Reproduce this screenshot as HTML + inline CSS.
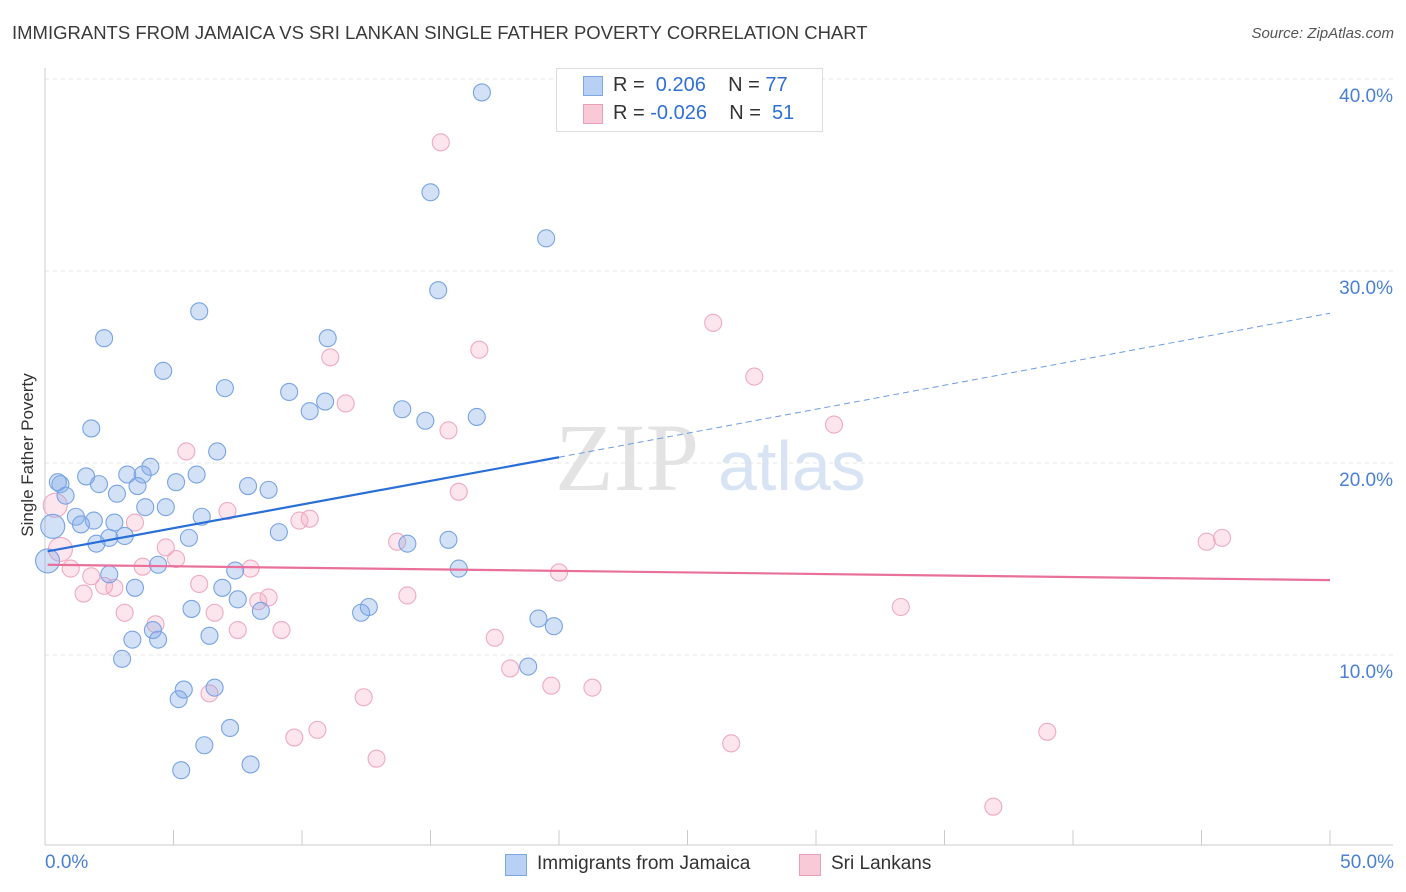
<!DOCTYPE html>
<html><head><meta charset="utf-8"><style>
body{margin:0;background:#fff;font-family:"Liberation Sans",sans-serif;}
#wrap{position:relative;width:1406px;height:892px;overflow:hidden;}
.t{position:absolute;white-space:nowrap;}
</style></head><body>
<div id="wrap">
<div class="t" style="left:12px;top:22px;font-size:18.5px;color:#3a3a3a;">IMMIGRANTS FROM JAMAICA VS SRI LANKAN SINGLE FATHER POVERTY CORRELATION CHART</div>
<div class="t" style="right:12px;top:25px;font-size:15px;color:#555;font-style:italic;">Source: ZipAtlas.com</div>
<div class="t" style="left:28px;top:455px;font-size:17px;color:#333;transform:translate(-50%,-50%) rotate(-90deg);">Single Father Poverty</div>
<svg id="svg" width="1406" height="892" style="position:absolute;left:0;top:0"></svg>
<div style="position:absolute;left:556px;top:68px;width:265px;height:62px;border:1px solid #ddd;background:#fff;"></div>
<div style="position:absolute;left:583px;top:76px;width:18px;height:18px;background:#b8d0f3;border:1px solid #7da6e3;"></div>
<div style="position:absolute;left:583px;top:104px;width:18px;height:18px;background:#f9c9d8;border:1px solid #eaa0b9;"></div>
<div class="t" style="left:613px;top:74px;font-size:20px;color:#333;">R = &nbsp;<span style="color:#2f6fd6">0.206</span>&nbsp;&nbsp;&nbsp; N = <span style="color:#2f6fd6">77</span></div>
<div class="t" style="left:613px;top:102px;font-size:20px;color:#333;">R = <span style="color:#2f6fd6">-0.026</span>&nbsp;&nbsp;&nbsp; N = &nbsp;<span style="color:#2f6fd6">51</span></div>
<div style="position:absolute;left:505px;top:854px;width:20px;height:20px;background:#b8d0f3;border:1px solid #7da6e3;"></div>
<div class="t" style="left:537px;top:853px;font-size:19px;color:#333;">Immigrants from Jamaica</div>
<div style="position:absolute;left:799px;top:854px;width:20px;height:20px;background:#f9c9d8;border:1px solid #eaa0b9;"></div>
<div class="t" style="left:831px;top:853px;font-size:19px;color:#333;">Sri Lankans</div>
<div class="t" style="left:45px;top:852px;font-size:19px;color:#4a7fd6;">0.0%</div>
<div class="t" style="right:12px;top:852px;font-size:19px;color:#4a7fd6;">50.0%</div>
</div>
<script>
const yTicks=[10,20,30,40];
const yTickLabels=["10.0%","20.0%","30.0%","40.0%"];
const blueX=[17.0,15.0,19.5,15.3,6.0,2.3,11.0,4.6,7.0,9.5,10.9,10.3,13.9,14.8,16.8,1.8,6.7,4.1,3.2,3.8,5.9,1.6,0.6,2.1,5.1,3.6,7.9,8.7,2.8,0.8,3.9,4.7,6.1,1.2,1.9,2.7,1.4,0.3,9.1,3.1,2.5,5.6,2.0,15.7,14.1,0.1,4.4,16.1,7.4,2.5,6.9,3.5,7.5,5.7,8.4,12.6,12.3,19.2,19.8,4.2,4.4,3.4,6.4,3.0,18.8,5.4,6.6,5.2,7.2,6.2,8.0,5.3,0.5];
const blueY=[39.3,34.1,31.7,29.0,27.9,26.5,26.5,24.8,23.9,23.7,23.2,22.7,22.8,22.2,22.4,21.8,20.6,19.8,19.4,19.4,19.4,19.3,18.9,18.9,19.0,18.8,18.8,18.6,18.4,18.3,17.7,17.7,17.2,17.2,17.0,16.9,16.8,16.7,16.4,16.2,16.1,16.1,15.8,16.0,15.8,14.9,14.7,14.5,14.4,14.2,13.5,13.5,12.9,12.4,12.3,12.5,12.2,11.9,11.5,11.3,10.8,10.8,11.0,9.8,9.4,8.2,8.3,7.7,6.2,5.3,4.3,4.0,19.0];
const pinkX=[15.4,26.0,16.9,11.1,27.6,11.7,15.7,30.7,5.5,16.1,7.1,9.9,10.3,3.5,0.4,13.7,45.2,45.8,4.7,0.6,5.1,3.8,8.0,1.0,1.8,20.0,6.0,2.3,2.7,1.5,8.7,14.1,8.3,3.1,6.6,33.3,4.3,7.5,9.2,17.5,18.1,19.7,21.3,6.4,12.4,10.6,9.7,39.0,26.7,12.9,36.9];
const pinkY=[36.7,27.3,25.9,25.5,24.5,23.1,21.7,22.0,20.6,18.5,17.5,17.0,17.1,16.9,17.8,15.9,15.9,16.1,15.6,15.5,15.0,14.6,14.5,14.5,14.1,14.3,13.7,13.6,13.5,13.2,13.0,13.1,12.8,12.2,12.2,12.5,11.6,11.3,11.3,10.9,9.3,8.4,8.3,8.0,7.8,6.1,5.7,6.0,5.4,4.6,2.1];
const blueTrend=[[0.1,15.4],[20.0,20.3],[50,27.8]];
const pinkTrend=[[0.1,14.7],[50,13.9]];
const X=v=>45+v*25.7, Y=v=>847-v*19.2;
const svg=document.getElementById('svg'),NS='http://www.w3.org/2000/svg';
function mk(t,a,name){const e=document.createElementNS(NS,t);for(const k in a)e.setAttribute(k,a[k]);


svg.appendChild(e);return e;}
yTicks.forEach((v,i)=>{mk('line',{x1:45,x2:1393,y1:Y(v),y2:Y(v),stroke:'#e4e4e4','stroke-dasharray':'4,4'},'y-gridline');
const t=mk('text',{x:1393,y:Y(v)+23,'text-anchor':'end','font-size':19,fill:'#4a7fd6','font-family':'Liberation Sans'},'y-tick-label');t.textContent=yTickLabels[i];});
mk('line',{x1:45,x2:45,y1:68,y2:845,stroke:'#ccc'},'y-axis');
mk('line',{x1:45,x2:1393,y1:845,y2:845,stroke:'#ccc'},'x-axis');
for(let i=0;i<=10;i++)mk('line',{x1:X(i*5),x2:X(i*5),y1:830,y2:845,stroke:'#ccc'},'x-tick');
const wm=mk('text',{x:555,y:490,'font-size':96,fill:'#e3e3e3','font-family':'Liberation Serif'},'watermark-zip');wm.textContent='ZIP';
const wm2=mk('text',{x:718,y:490,'font-size':70,fill:'#d8e4f3','font-family':'Liberation Sans'},'watermark-atlas');wm2.textContent='atlas';
pinkX.forEach((v,i)=>mk('circle',{cx:X(v),cy:Y(pinkY[i]),r:(v<1?12:8.5),fill:'rgba(244,170,196,0.3)',stroke:'#eeaac1','stroke-width':1.1},'point-srilanka'));
blueX.forEach((v,i)=>mk('circle',{cx:X(v),cy:Y(blueY[i]),r:(v<0.5?12:8.5),fill:'rgba(130,170,232,0.35)',stroke:'#78a4e3','stroke-width':1.1},'point-jamaica'));
mk('line',{x1:X(blueTrend[0][0]),y1:Y(blueTrend[0][1]),x2:X(blueTrend[1][0]),y2:Y(blueTrend[1][1]),stroke:'#2a6fd8','stroke-width':2.2},'trend-jamaica');
mk('line',{x1:X(blueTrend[1][0]),y1:Y(blueTrend[1][1]),x2:X(blueTrend[2][0]),y2:Y(blueTrend[2][1]),stroke:'#6d9ce0','stroke-width':1,'stroke-dasharray':'6,4'},'trend-jamaica-extension');
mk('line',{x1:X(pinkTrend[0][0]),y1:Y(pinkTrend[0][1]),x2:X(pinkTrend[1][0]),y2:Y(pinkTrend[1][1]),stroke:'#e8709a','stroke-width':2.2},'trend-srilanka');
</script>
</body></html>
